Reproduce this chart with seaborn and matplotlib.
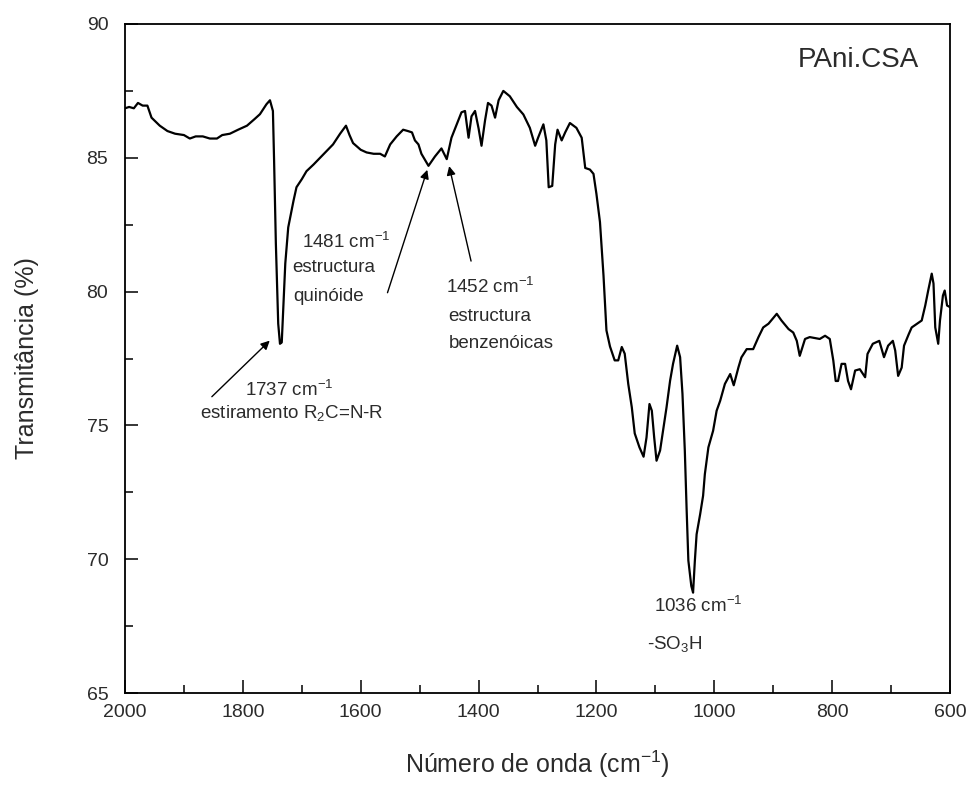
import numpy as np
import pandas as pd
import matplotlib
matplotlib.use("Agg")
import matplotlib.pyplot as plt
import seaborn as sns
from matplotlib.ticker import MultipleLocator

# FTIR spectrum of PAni.CSA (wavenumber in cm^-1, transmittance in %)
wavenumber = [
    2000, 1993, 1985, 1978, 1970, 1962, 1955, 1941, 1928, 1915, 1900, 1890,
    1880, 1868, 1856, 1844, 1835, 1822, 1808, 1793, 1780, 1771, 1760, 1754,
    1749, 1747, 1744, 1740, 1737, 1734, 1731, 1728, 1723, 1714, 1709, 1700,
    1692, 1680, 1669, 1658, 1647, 1635, 1625, 1619, 1613, 1600, 1590, 1578,
    1567, 1559, 1550, 1539, 1528, 1520, 1513, 1508, 1502, 1497, 1485, 1474,
    1463, 1454, 1446, 1437, 1429, 1423, 1417, 1412, 1406, 1400, 1395, 1389,
    1384, 1378, 1372, 1366, 1358, 1347, 1335, 1324, 1313, 1304, 1299, 1290,
    1285, 1281, 1275, 1270, 1266, 1259, 1253, 1245, 1234, 1225, 1219, 1211,
    1205, 1200, 1194, 1188, 1185, 1183, 1177, 1169, 1163, 1157, 1152, 1146,
    1140, 1135, 1127, 1120, 1115, 1110, 1106, 1102, 1098, 1092, 1087, 1081,
    1075, 1070, 1063, 1058, 1054, 1050, 1047, 1044, 1039, 1036, 1033, 1030,
    1024, 1019, 1016, 1010, 1002, 996, 990, 982, 973, 967, 959, 954,
    945, 934, 925, 917, 908, 894, 886, 874, 866, 860, 855, 846,
    838, 821, 812, 804, 798, 794, 790, 784, 778, 773, 768, 761,
    753, 744, 740, 731, 720, 712, 705, 697, 693, 688, 682, 678,
    670, 665, 656, 648, 642, 637, 631, 628, 625, 620, 617, 612,
    609, 605, 600,
]
transmittance = [
    86.85, 86.90, 86.85, 87.05, 86.95, 86.95, 86.50, 86.20, 86.00, 85.90, 85.85, 85.72,
    85.80, 85.80, 85.72, 85.72, 85.85, 85.90, 86.05, 86.20, 86.45, 86.63, 87.00, 87.15,
    86.75, 84.90, 81.80, 78.80, 78.05, 78.10, 79.55, 81.05, 82.40, 83.40, 83.90, 84.20,
    84.50, 84.75, 85.00, 85.25, 85.50, 85.90, 86.20, 85.85, 85.55, 85.30, 85.20, 85.15,
    85.15, 85.05, 85.50, 85.80, 86.05, 86.00, 85.95, 85.65, 85.50, 85.15, 84.70, 85.05,
    85.35, 84.95, 85.75, 86.25, 86.70, 86.75, 85.75, 86.55, 86.75, 86.10, 85.45, 86.40,
    87.05, 86.95, 86.50, 87.15, 87.50, 87.30, 86.90, 86.62, 86.12, 85.45, 85.75, 86.25,
    85.65, 83.90, 83.95, 85.50, 86.05, 85.65, 85.95, 86.30, 86.12, 85.75, 84.62, 84.56,
    84.40, 83.65, 82.60, 80.60, 79.40, 78.55, 77.95, 77.43, 77.43, 77.93, 77.68, 76.55,
    75.68, 74.70, 74.18, 73.83, 74.55, 75.80, 75.55, 74.55, 73.68, 74.06, 74.80, 75.68,
    76.67, 77.30, 77.98, 77.55, 76.18, 74.05, 71.90, 69.95, 69.00, 68.75, 69.93, 70.93,
    71.68, 72.37, 73.18, 74.18, 74.80, 75.55, 75.92, 76.55, 76.92, 76.50, 77.17, 77.54,
    77.85, 77.85, 78.30, 78.66, 78.80, 79.17, 78.92, 78.60, 78.47, 78.16, 77.60, 78.23,
    78.30, 78.23, 78.35, 78.23, 77.42, 76.66, 76.66, 77.30, 77.30, 76.66, 76.35, 77.05,
    77.10, 76.80, 77.67, 78.05, 78.16, 77.55, 77.98, 78.16, 77.80, 76.85, 77.16, 77.98,
    78.41, 78.66, 78.80, 78.92, 79.48, 80.04, 80.67, 80.30, 78.66, 78.05, 78.92, 79.85,
    80.04, 79.48, 79.42,
]

x_ticks = [2000, 1800, 1600, 1400, 1200, 1000, 800, 600]
y_ticks = [65, 70, 75, 80, 85, 90]

sns.set_theme(style="ticks")
plt.rcParams["font.family"] = ["Liberation Sans", "DejaVu Sans"]
plt.rcParams["mathtext.fontset"] = "custom"
plt.rcParams["mathtext.rm"] = "Liberation Sans"
plt.rcParams["mathtext.it"] = "Liberation Sans"

txt = "#2b2b2b"

fig = plt.figure(figsize=(9.69, 7.85), dpi=100)
ax = fig.add_axes([125 / 969, 1 - 693 / 785, 825 / 969, (693 - 24) / 785])

df = pd.DataFrame({"wn": wavenumber, "T": transmittance})
sns.lineplot(data=df, x="wn", y="T", ax=ax, color="black", linewidth=1.6,
             sort=False, estimator=None)

ax.set_xlim(2000, 600)
ax.set_ylim(65, 90)
ax.set_xticks(x_ticks)
ax.set_yticks(y_ticks)
ax.xaxis.set_minor_locator(MultipleLocator(100))
ax.yaxis.set_minor_locator(MultipleLocator(2.5))
ax.tick_params(axis="both", which="major", direction="in", length=9.5, width=1.1,
               labelsize=14, labelcolor=txt, color="black")
ax.tick_params(axis="both", which="minor", direction="in", length=6, width=1.1,
               color="black")
ax.tick_params(axis="x", which="both", top=False, pad=8)
ax.tick_params(axis="y", which="both", right=False, pad=12)
for s in ax.spines.values():
    s.set_linewidth(1.3)
    s.set_color("black")

ax.set_xlabel("Número de onda (cm$^{-1}$)", fontsize=18, color=txt, labelpad=20)
ax.set_ylabel("Transmitância (%)", fontsize=18, color=txt, labelpad=34)

ax.text(859, 88.65, "PAni.CSA", fontsize=20, color=txt, ha="left", va="center")

arrow = dict(arrowstyle="-|>", color="black", lw=1.0, mutation_scale=13)
fs = 13.5

# 1737 cm-1 band
ax.annotate("", xy=(1751, 78.24), xytext=(1856, 76.0), arrowprops=arrow)
ax.text(1722, 76.34, "1737 cm$^{-1}$", fontsize=fs, color=txt, ha="center", va="center")
ax.text(1717, 75.48, "estiramento R$_{2}$C=N-R", fontsize=fs, color=txt,
        ha="center", va="center")

# 1481 cm-1 band
ax.annotate("", xy=(1485.6, 84.65), xytext=(1556, 79.86), arrowprops=arrow)
ax.text(1700, 81.85, "1481 cm$^{-1}$", fontsize=fs, color=txt, ha="left", va="center")
ax.text(1717, 80.9, "estructura", fontsize=fs, color=txt, ha="left", va="center")
ax.text(1715, 79.8, "quinóide", fontsize=fs, color=txt, ha="left", va="center")

# 1452 cm-1 band
ax.annotate("", xy=(1451, 84.79), xytext=(1411.7, 81.04), arrowprops=arrow)
ax.text(1455, 80.16, "1452 cm$^{-1}$", fontsize=fs, color=txt, ha="left", va="center")
ax.text(1452, 79.07, "estructura", fontsize=fs, color=txt, ha="left", va="center")
ax.text(1450, 78.06, "benzenóicas", fontsize=fs, color=txt, ha="left", va="center")

# 1036 cm-1 band
ax.text(1102, 68.26, "1036 cm$^{-1}$", fontsize=fs, color=txt, ha="left", va="center")
ax.text(1114, 66.83, "-SO$_{3}$H", fontsize=fs, color=txt, ha="left", va="center")

fig.savefig("out.png", dpi=100)
